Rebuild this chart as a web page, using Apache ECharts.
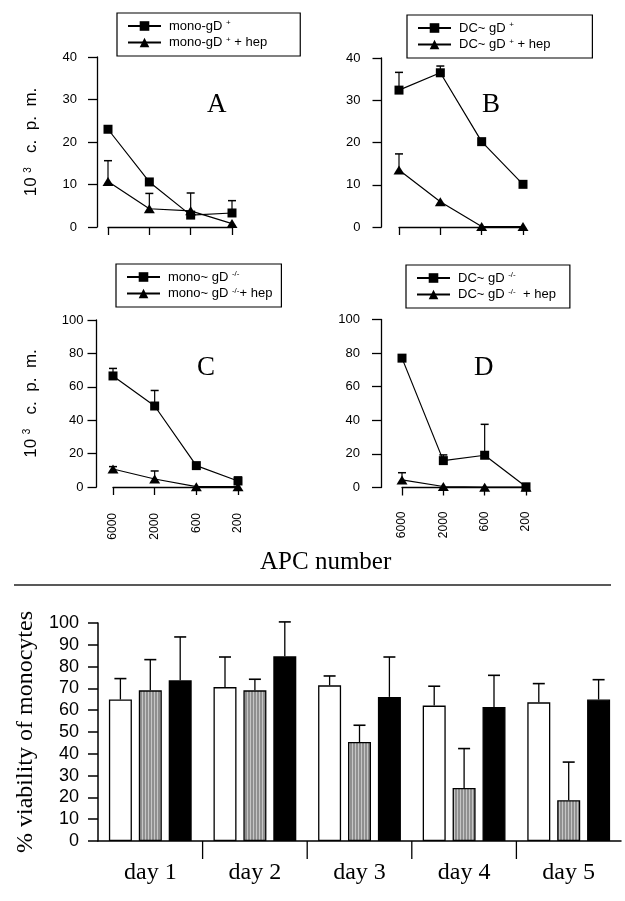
<!DOCTYPE html>
<html><head><meta charset="utf-8">
<script src="https://cdn.jsdelivr.net/npm/echarts@6/dist/echarts.min.js"></script>
<style>html,body{margin:0;padding:0;background:#fff}#c{width:625px;height:901px}</style>
</head><body><div id="c"></div>
<script>
// ---------- data ----------
const apcLabels = ['6000', '2000', '600', '200'];
// Panel A
const monoPlus = [23.0, 10.6, 2.8, 3.3];
const monoPlusErr = [0, 0, 0, 2.9];
const monoPlusHep = [10.7, 4.3, 3.8, 0.8];
const monoPlusHepErr = [4.9, 3.6, 4.2, 0];
// Panel B
const dcPlus = [32.4, 36.5, 20.2, 10.1];
const dcPlusErr = [4.2, 1.6, 0, 0];
const dcPlusHep = [13.5, 6.0, 0.1, 0.1];
const dcPlusHepErr = [3.8, 0, 0, 0];
// Panel C
const monoKO = [66.5, 48.5, 12.8, 3.6];
const monoKOErr = [4.5, 9.3, 0, 2.4];
const monoKOHep = [10.8, 4.8, 0.2, 0.2];
const monoKOHepErr = [1.4, 4.8, 0, 0];
// Panel D
const dcKO = [77.0, 16.0, 19.2, 0.4];
const dcKOErr = [0, 3.4, 18.4, 0];
const dcKOHep = [4.5, 0.6, 0.2, 0.2];
const dcKOHepErr = [4.3, 0, 0, 0];
// Viability of monocytes
const days = ['day 1', 'day 2', 'day 3', 'day 4', 'day 5'];
const viabWhite = [64.9, 70.6, 71.4, 62.1, 63.6];
const viabWhiteErr = [9.6, 13.8, 4.3, 8.9, 8.6];
const viabGray = [69.1, 69.1, 45.4, 24.3, 18.7];
const viabGrayErr = [14.1, 5.1, 7.7, 18.1, 17.5];
const viabBlack = [73.7, 84.7, 66.1, 61.5, 64.9];
const viabBlackErr = [19.9, 15.8, 18.3, 14.5, 9.1];

// ---------- styles ----------
const SANS = "'Liberation Sans', Arial, Helvetica, sans-serif";
const SERIF = "'Liberation Serif', 'Times New Roman', serif";
const BAR_W = 23, BAR_GAP = 0.3;

const stripe = document.createElement('canvas');
stripe.width = 3; stripe.height = 8;
(function () {
  const g = stripe.getContext('2d');
  g.fillStyle = '#8f8f8f'; g.fillRect(0, 0, 3, 8);
  g.fillStyle = '#c6c6c6'; g.fillRect(1, 0, 1, 8);
})();

const panels = [
  { grid: { left: 108, top: 57, width: 124, height: 170 }, max: 40, interval: 10, yOff: 11, xOff: 3, labelMargin: 20, showX: false,
    yName: true,
    s: [['mono-gD+', monoPlus, monoPlusErr, 'rect'], ['mono-gD+ + hep', monoPlusHep, monoPlusHepErr, 'triangle']],
    legend: { left: 117, top: 13, padding: [6, 33, 7, 10] } },
  { grid: { left: 399, top: 58, width: 124, height: 169 }, max: 40, interval: 10, yOff: 17.5, xOff: 5, labelMargin: 21, showX: false,
    yName: false,
    s: [['DC~ gD+', dcPlus, dcPlusErr, 'rect'], ['DC~ gD+ + hep', dcPlusHep, dcPlusHepErr, 'triangle']],
    legend: { left: 407, top: 15, padding: [6, 42, 7, 10] } },
  { grid: { left: 113, top: 320, width: 125, height: 167 }, max: 100, interval: 20, yOff: 16.5, xOff: 12, labelMargin: 13, showX: true,
    yName: true,
    s: [['mono~ gD-/-', monoKO, monoKOErr, 'rect'], ['mono~ gD-/- + hep', monoKOHep, monoKOHepErr, 'triangle']],
    legend: { left: 116, top: 264, padding: [6, 9, 7, 10] } },
  { grid: { left: 402, top: 319.5, width: 124, height: 168 }, max: 100, interval: 20, yOff: 21, xOff: 10, labelMargin: 21, showX: true,
    yName: false,
    s: [['DC~ gD-/-', dcKO, dcKOErr, 'rect'], ['DC~ gD-/- + hep', dcKOHep, dcKOHepErr, 'triangle']],
    legend: { left: 406, top: 265, padding: [6, 14, 7, 10] } }
];

const legendText = {
  'mono-gD+': 'mono-gD {s|+}',
  'mono-gD+ + hep': 'mono-gD {s|+} + hep',
  'DC~ gD+': 'DC~ gD {s|+}',
  'DC~ gD+ + hep': 'DC~ gD {s|+} + hep',
  'mono~ gD-/-': 'mono~ gD {s|-/-}',
  'mono~ gD-/- + hep': 'mono~ gD {s|-/-}+ hep',
  'DC~ gD-/-': 'DC~ gD {s|-/-}',
  'DC~ gD-/- + hep': 'DC~ gD {s|-/-}  + hep'
};

function lineErr(params, api) {
  const i = api.value(0), v = api.value(1), e = api.value(2);
  if (!e) return null;
  const p = api.coord([i, v]), t = api.coord([i, v + e]);
  return { type: 'group', children: [
    { type: 'line', shape: { x1: p[0], y1: p[1], x2: t[0], y2: t[1] }, style: { stroke: '#000', lineWidth: 1.2 } },
    { type: 'line', shape: { x1: t[0] - 4, y1: t[1], x2: t[0] + 4, y2: t[1] }, style: { stroke: '#000', lineWidth: 1.5 } }
  ] };
}
function barErr(offset) {
  return function (params, api) {
    const i = api.value(0), v = api.value(1), e = api.value(2);
    const p = api.coord([i, v]), t = api.coord([i, v + e]);
    const x = p[0] + offset;
    return { type: 'group', children: [
      { type: 'line', shape: { x1: x, y1: p[1], x2: x, y2: t[1] }, style: { stroke: '#000', lineWidth: 1.3 } },
      { type: 'line', shape: { x1: x - 6, y1: t[1], x2: x + 6, y2: t[1] }, style: { stroke: '#000', lineWidth: 1.6 } }
    ] };
  };
}
function sepRender(params, api) {
  const i = api.value(0);
  const p = api.coord([i, 0]);
  const w = api.size([1, 0])[0];
  const x = p[0] + w / 2;
  return { type: 'line', shape: { x1: x, y1: p[1], x2: x, y2: p[1] + 18 }, style: { stroke: '#000', lineWidth: 1.3 } };
}

const option = { animation: false, backgroundColor: '#fff', grid: [], xAxis: [], yAxis: [], legend: [], series: [], graphic: [] };

panels.forEach((pn, k) => {
  option.grid.push(pn.grid);
  option.xAxis.push({
    type: 'category', gridIndex: k, data: apcLabels, boundaryGap: false, offset: pn.xOff,
    axisLine: { lineStyle: { color: '#000', width: 1.3 } },
    axisTick: { show: true, length: 8, lineStyle: { color: '#000', width: 1.3 } },
    axisLabel: { show: pn.showX, rotate: 90, margin: 14, fontSize: 12, fontFamily: SANS, color: '#000' },
    splitLine: { show: false }
  });
  option.yAxis.push({
    type: 'value', gridIndex: k, min: 0, max: pn.max, interval: pn.interval, offset: pn.yOff,
    name: pn.yName ? '10 {s|3}   c.  p.  m.' : '', nameLocation: 'middle', nameGap: 57, nameRotate: 90,
    nameTextStyle: { fontSize: 17, fontFamily: SANS, color: '#000', rich: { s: { fontSize: 10, fontFamily: SANS, color: '#000', verticalAlign: 'top' } } },
    axisLine: { show: true, lineStyle: { color: '#000', width: 1.3 } },
    axisTick: { show: true, length: 9, lineStyle: { color: '#000', width: 1.3 } },
    axisLabel: { margin: pn.labelMargin, fontSize: 13, fontFamily: SANS, color: '#000' },
    splitLine: { show: false }
  });
  option.legend.push({
    left: pn.legend.left, top: pn.legend.top, orient: 'vertical', padding: pn.legend.padding,
    itemWidth: 33, itemHeight: 12, itemGap: 3, selectedMode: false,
    borderColor: '#000', borderWidth: 1.2, borderRadius: 0,
    data: pn.s.map(s => s[0]),
    formatter: name => legendText[name],
    textStyle: { fontSize: 13, fontFamily: SANS, color: '#000', padding: [0, 0, 0, 3],
      rich: { s: { fontSize: 8, fontFamily: SANS, color: '#000', verticalAlign: 'top', padding: [0, 0, 6, 0] } } }
  });
  pn.s.forEach(([name, vals, errs, sym]) => {
    option.series.push({
      type: 'custom', xAxisIndex: k, yAxisIndex: k, renderItem: lineErr, z: 2, silent: true,
      encode: { x: 0, y: 1 },
      data: vals.map((v, i) => [i, v, errs[i]])
    });
    option.series.push({
      name, type: 'line', xAxisIndex: k, yAxisIndex: k, data: vals, z: 3,
      symbol: sym, symbolSize: sym === 'rect' ? 9 : [11, 9], showSymbol: true,
      lineStyle: { color: '#000', width: 1.2 }, itemStyle: { color: '#000' }
    });
  });
});

// Viability bar chart
option.grid.push({ left: 98, right: 4, top: 623, height: 218 });
option.xAxis.push({
  type: 'category', gridIndex: 4, data: days,
  axisLine: { lineStyle: { color: '#000', width: 1.5 } },
  axisTick: { show: false },
  axisLabel: { margin: 20, fontSize: 24, fontFamily: SERIF, color: '#000' }
});
option.yAxis.push({
  type: 'value', gridIndex: 4, min: 0, max: 100, interval: 10,
  name: '% viability of monocytes', nameLocation: 'middle', nameGap: 60, nameRotate: 90,
  nameTextStyle: { fontSize: 24, fontFamily: SERIF, color: '#000' },
  axisLine: { show: true, lineStyle: { color: '#000', width: 1.5 } },
  axisTick: { show: true, length: 10, lineStyle: { color: '#000', width: 1.5 } },
  axisLabel: { margin: 19, fontSize: 18, fontFamily: SANS, color: '#000' },
  splitLine: { show: false }
});
const barSets = [
  [viabWhite, viabWhiteErr, '#ffffff'],
  [viabGray, viabGrayErr, { image: stripe, repeat: 'repeat' }],
  [viabBlack, viabBlackErr, '#000000']
];
barSets.forEach(([vals, errs, col], j) => {
  option.series.push({
    type: 'bar', xAxisIndex: 4, yAxisIndex: 4, data: vals, barWidth: BAR_W, barGap: (BAR_GAP * 100) + '%',
    itemStyle: { color: col, borderColor: '#000', borderWidth: 1.3 }, z: 2
  });
});
barSets.forEach(([vals, errs], j) => {
  const off = (j - 1) * BAR_W * (1 + BAR_GAP);
  option.series.push({
    type: 'custom', xAxisIndex: 4, yAxisIndex: 4, renderItem: barErr(off), z: 3, silent: true,
    encode: { x: 0, y: 1 },
    data: vals.map((v, i) => [i, v, errs[i]])
  });
});
option.series.push({
  type: 'custom', xAxisIndex: 4, yAxisIndex: 4, renderItem: sepRender, z: 3, silent: true,
  encode: { x: 0, y: 1 },
  data: days.slice(1).map((d, i) => [i, 0])
});

// Decorative text and divider
const letterStyle = { fontSize: 27, fontFamily: SERIF, fill: '#000', textAlign: 'center', textVerticalAlign: 'middle' };
option.graphic = [
  { type: 'text', left: 207, top: 91, style: Object.assign({ text: 'A' }, letterStyle, { textAlign: 'left', textVerticalAlign: 'top' }) },
  { type: 'text', left: 482, top: 91, style: Object.assign({ text: 'B' }, letterStyle, { textAlign: 'left', textVerticalAlign: 'top' }) },
  { type: 'text', left: 197, top: 354, style: Object.assign({ text: 'C' }, letterStyle, { textAlign: 'left', textVerticalAlign: 'top' }) },
  { type: 'text', left: 474, top: 354, style: Object.assign({ text: 'D' }, letterStyle, { textAlign: 'left', textVerticalAlign: 'top' }) },
  { type: 'text', left: 260, top: 550, style: { text: 'APC number', fontSize: 25, fontFamily: SERIF, fill: '#000' } },
  { type: 'line', shape: { x1: 14, y1: 585, x2: 611, y2: 585 }, style: { stroke: '#222', lineWidth: 1.5 } }
];

const chart = echarts.init(document.getElementById('c'), null, { renderer: 'canvas' });
chart.setOption(option);
</script>
</body></html>
